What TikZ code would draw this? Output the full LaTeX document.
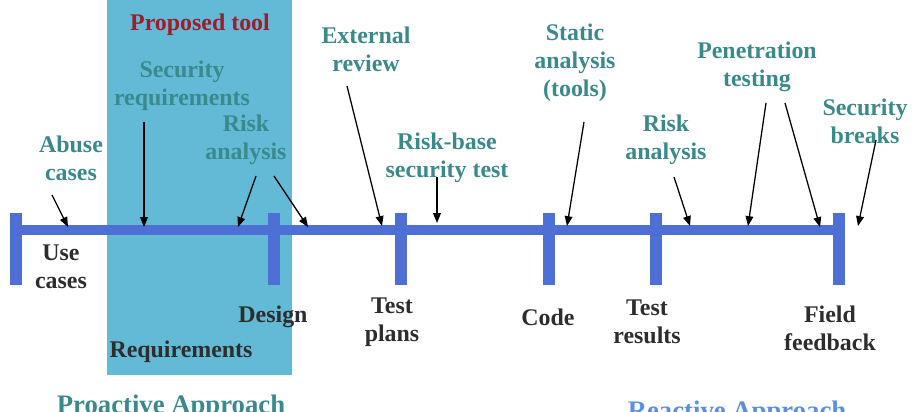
\documentclass[tikz,border=0pt]{standalone}
\usepackage{fontspec}
\setmainfont{Liberation Serif}
\usepackage{tikz}
\usetikzlibrary{arrows.meta,calc,positioning}
\definecolor{toolbox}{RGB}{98,186,214}
\definecolor{line}{RGB}{78,112,212}
\definecolor{teal}{RGB}{58,138,140}
\definecolor{tool}{RGB}{160,28,40}
\definecolor{phase}{RGB}{45,45,45}
\definecolor{react}{RGB}{92,142,232}

\begin{document}
\begin{tikzpicture}[x=0.025cm,y=-0.025cm,
  lbl/.style={font=\bfseries\fontsize{17}{20}\selectfont,align=center,inner sep=1pt},
  act/.style={lbl,text=teal},
  stage/.style={lbl,text=phase},
  pointer/.style={-{Triangle[length=7pt,width=5.5pt]},line width=0.9pt,black},
  bar/.style={line,line width=0.25cm},
  tick/.style={line,line width=0.3cm}]
  \clip (0,0) rectangle (912,412);
  % proposed tool region
  \fill[toolbox] (107,0) rectangle (292,375);
  % timeline
  \draw[bar] (16,230) -- (839,230);
  \foreach \x/\n in {16/t0,274/t1,401/t2,549/t3,656/t4,839/t5}
    {\draw[tick] (\x,213) -- (\x,285); \coordinate (\n) at (\x,230);}
  % activities above
  \node[lbl,text=tool] (proposed) at (200,25) {Proposed tool};
  \node[act] (secreq) at (182,86) {Security\\requirements};
  \node[act] (riskA) at (246,140) {Risk\\analysis};
  \node[act] (abuse) at (71,158) {Abuse\\cases};
  \node[act] (extrev) at (366,49) {External\\review};
  \node[act] (riskbase) at (447,158) {Risk-base\\security test};
  \node[act] (static) at (575,63) {Static\\analysis\\(tools)};
  \node[act] (riskB) at (666,140) {Risk\\analysis};
  \node[act] (pentest) at (757,67) {Penetration\\testing};
  \node[act] (secbreak) at (865,121) {Security\\breaks};
  % phases below
  \node[stage] (usecases) at (61,267) {Use\\cases};
  \node[stage] (design) at (273,317) {Design};
  \node[stage] (requirements) at (181,352) {Requirements};
  \node[stage] (testplans) at (392,322) {Test\\plans};
  \node[stage] (code) at (548,317) {Code};
  \node[stage] (testresults) at (647,322) {Test\\results};
  \node[stage] (field) at (830,328) {Field\\feedback};
  % approaches
  \node[font=\bfseries\fontsize{19}{22}\selectfont,text=teal,anchor=base] (proactive) at (171,413) {Proactive Approach};
  \node[font=\bfseries\fontsize{19}{22}\selectfont,text=react,anchor=base] (reactive) at (737,419) {Reactive Approach};
  % arrows onto the timeline
  \foreach \a/\b/\c/\d/\n in {52/195/68/227/ab, 144/122/144/227/sr, 256/176/238/227/ra,
      274/176/308/227/rb, 347/86/382/226/er, 437/177/437/223/rs, 584/122/567/226/sa,
      674/177/690/226/rc, 766/103/748/226/pa, 785/103/820/227/pb, 876/140/858/226/sb}
    {\coordinate (\n s) at (\a,\b); \coordinate (\n e) at (\c,\d);
     \draw[pointer] (\n s) -- (\n e);}
\end{tikzpicture}
\end{document}
